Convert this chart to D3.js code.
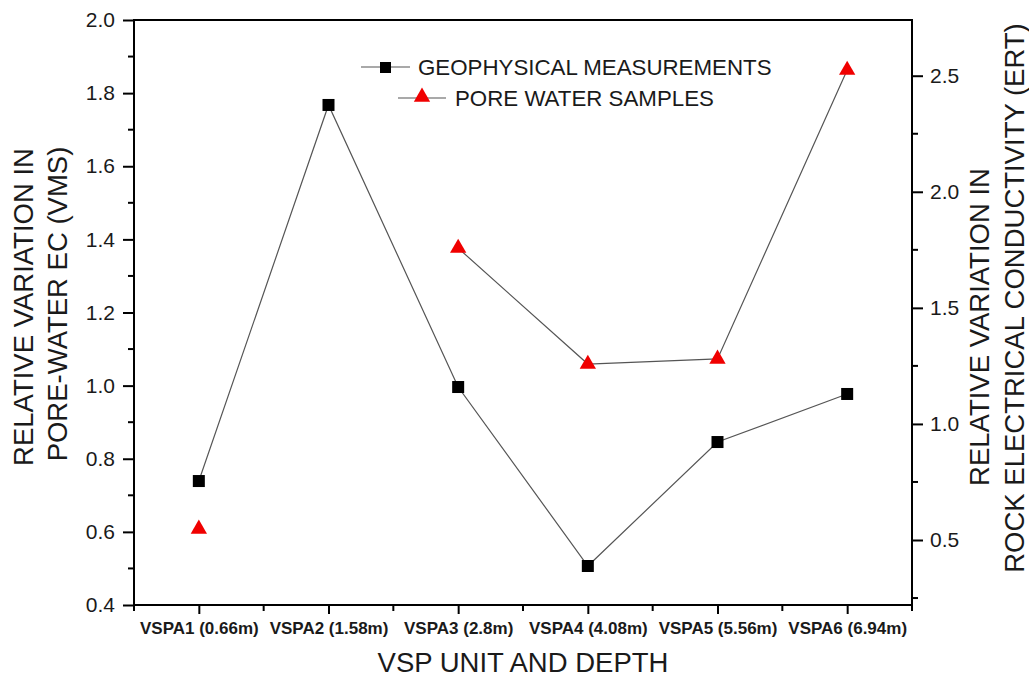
<!DOCTYPE html>
<html>
<head>
<meta charset="utf-8">
<script src="https://cdn.jsdelivr.net/npm/d3@7"></script>
<style>
  body { margin: 0; background: white; }
  text { font-family: Arial, "Liberation Sans", sans-serif; fill: #1a1a1a; }
</style>
</head>
<body>
<div id="chart"></div>
<script>
// categories along the x axis
const units = ['VSPA1 (0.66m)', 'VSPA2 (1.58m)', 'VSPA3 (2.8m)', 'VSPA4 (4.08m)', 'VSPA5 (5.56m)', 'VSPA6 (6.94m)'];
// rock electrical conductivity (right axis)
const geophysical = [0.754, 2.374, 1.159, 0.388, 0.922, 1.129];
// pore water EC (left axis), no sample for VSPA2
const poreWater = [0.608, null, 1.376, 1.059, 1.073, 1.863];
const leftTicks = [0.4, 0.6, 0.8, 1.0, 1.2, 1.4, 1.6, 1.8, 2.0];
const rightTicks = [0.5, 1.0, 1.5, 2.0, 2.5];

// small stand-in for d3-selection-multi
d3.selection.prototype.attrs = function(obj){
    for (let k in obj) this.attr(k, obj[k]);
    return this;
};

let dim = { width: 1029, height: 679 };
let m = { left: 134, right: 117, top: 20, bottom: 74 };

let svg = d3.select('#chart').append('svg')
    .attr('width', dim.width)
    .attr('height', dim.height);

let x = d3.scaleLinear().domain([0.5, units.length + 0.5]).range([m.left, dim.width - m.right]);
let yL = d3.scaleLinear().domain([0.4, 2.0]).range([dim.height - m.bottom, m.top]);
let yR = d3.scaleLinear().domain([0.22, 2.74]).range([dim.height - m.bottom, m.top]);

let x0 = m.left, x1 = dim.width - m.right, yb = dim.height - m.bottom, yt = m.top;

// left axis
let leftAx = svg.append('g').attr('transform', `translate(${x0},0)`)
    .call(d3.axisLeft(yL).tickValues(leftTicks).tickFormat(d3.format('.1f')).tickSize(11).tickPadding(8));
leftAx.append('g').selectAll('line')
    .data(d3.range(0.5, 2.0, 0.2))
    .join('line')
    .attrs({ x1: -6, x2: 0, y1: d => yL(d), y2: d => yL(d) });

// right axis
let rightAx = svg.append('g').attr('transform', `translate(${x1},0)`)
    .call(d3.axisRight(yR).tickValues(rightTicks).tickFormat(d3.format('.1f')).tickSize(11).tickPadding(7));
rightAx.append('g').selectAll('line')
    .data([0.25, 0.75, 1.25, 1.75, 2.25])
    .join('line')
    .attrs({ x1: 0, x2: 6, y1: d => yR(d), y2: d => yR(d) });

// bottom axis
let botAx = svg.append('g').attr('transform', `translate(0,${yb})`)
    .call(d3.axisBottom(x).tickValues(d3.range(1, units.length + 1)).tickFormat(d => units[d - 1]).tickSize(9).tickPadding(8));
botAx.append('g').selectAll('line')
    .data(d3.range(0.5, units.length + 1, 1))
    .join('line')
    .attrs({ x1: d => x(d), x2: d => x(d), y1: 0, y2: 6 });

svg.selectAll('.domain').attr('stroke', 'none');
svg.selectAll('g line').attr('stroke', '#000').attr('stroke-width', 2);
leftAx.selectAll('text').style('font-size', '21px').attr('fill', '#1a1a1a');
rightAx.selectAll('text').style('font-size', '21px').attr('fill', '#1a1a1a');
botAx.selectAll('text').style('font-size', '17px').style('font-weight', 'bold').attr('fill', '#1a1a1a');

// frame
svg.append('rect')
    .attrs({ x: x0, y: yt, width: x1 - x0, height: yb - yt, fill: 'none', stroke: '#000', 'stroke-width': 2 });

// lines
let lineG = d3.line().x((d, i) => x(i + 1)).y(d => yR(d));
let lineP = d3.line().defined(d => d != null).x((d, i) => x(i + 1)).y(d => yL(d));

svg.append('path').datum(geophysical)
    .attrs({ d: lineG, fill: 'none', stroke: '#555', 'stroke-width': 1.2 });
svg.append('path').datum(poreWater)
    .attrs({ d: lineP, fill: 'none', stroke: '#555', 'stroke-width': 1.2 });

// markers
let sq = 12;
svg.selectAll('rect.geo')
    .data(geophysical)
    .join('rect')
    .attrs({ class: 'geo', x: (d, i) => x(i + 1) - sq / 2, y: d => yR(d) - sq / 2, width: sq, height: sq, fill: '#000' });

let tri = d3.symbol().type(d3.symbolTriangle).size(115);
svg.selectAll('path.pw')
    .data(poreWater.map((v, i) => ({ v: v, i: i })).filter(d => d.v != null))
    .join('path')
    .attrs({ class: 'pw', d: tri, fill: '#f00000', transform: d => `translate(${x(d.i + 1)},${yL(d.v)})` });

// legend
let leg = svg.append('g');
leg.append('line').attrs({ x1: 361, x2: 410, y1: 67, y2: 67, stroke: '#555', 'stroke-width': 1.2 });
leg.append('rect').attrs({ x: 380, y: 62, width: 11, height: 11, fill: '#000' });
leg.append('text').attrs({ x: 418, y: 75 }).style('font-size', '22.3px').text('GEOPHYSICAL MEASUREMENTS');
leg.append('line').attrs({ x1: 398, x2: 446, y1: 98, y2: 98, stroke: '#555', 'stroke-width': 1.2 });
leg.append('path').attrs({ d: tri, fill: '#f00000', transform: 'translate(422,97)' });
leg.append('text').attrs({ x: 455, y: 106 }).style('font-size', '22.3px').text('PORE WATER SAMPLES');

// axis titles
svg.append('text')
    .attrs({ transform: 'translate(33,307) rotate(-90)', 'text-anchor': 'middle' })
    .style('font-size', '27.5px').text('RELATIVE VARIATION IN');
svg.append('text')
    .attrs({ transform: 'translate(67,304) rotate(-90)', 'text-anchor': 'middle' })
    .style('font-size', '27.5px').text('PORE-WATER EC (VMS)');
svg.append('text')
    .attrs({ transform: 'translate(989,327) rotate(-90)', 'text-anchor': 'middle' })
    .style('font-size', '27.5px').text('RELATIVE VARIATION IN');
svg.append('text')
    .attrs({ transform: 'translate(1024,298) rotate(-90)', 'text-anchor': 'middle' })
    .style('font-size', '27.5px').text('ROCK ELECTRICAL CONDUCTIVITY (ERT)');
svg.append('text')
    .attrs({ x: 523, y: 672, 'text-anchor': 'middle' })
    .style('font-size', '27.5px').text('VSP UNIT AND DEPTH');
</script>
</body>
</html>
